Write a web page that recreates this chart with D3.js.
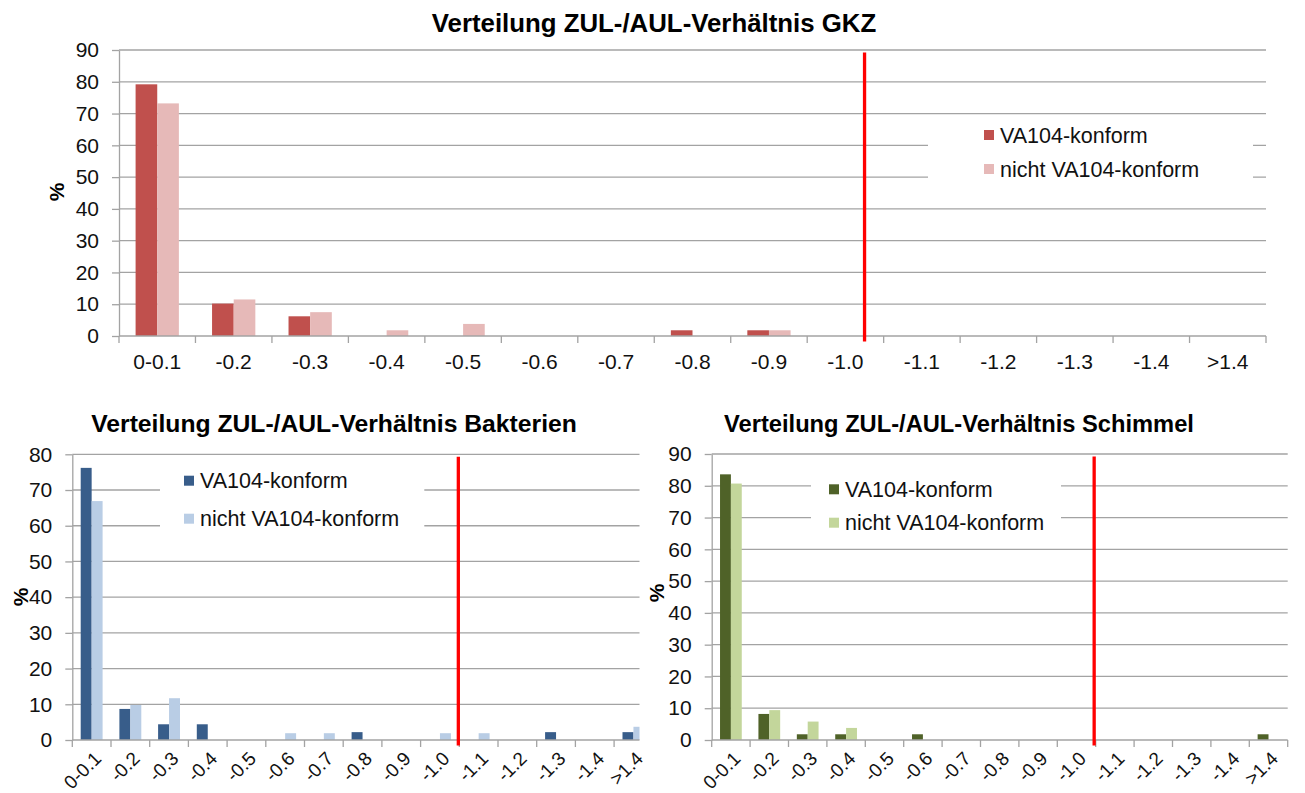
<!DOCTYPE html>
<html>
<head>
<meta charset="utf-8">
<script src="https://cdn.jsdelivr.net/npm/d3@7"></script>
<style>
  html, body { margin: 0; padding: 0; background: #fff; }
  svg { display: block; font-family: "Liberation Sans", Arial, sans-serif; }
</style>
</head>
<body>
<script>
// ZUL-/AUL ratio classes (shared by all three histograms)
const categories = ["0-0.1", "-0.2", "-0.3", "-0.4", "-0.5", "-0.6", "-0.7", "-0.8",
                    "-0.9", "-1.0", "-1.1", "-1.2", "-1.3", "-1.4", ">1.4"];
const seriesNames = ["VA104-konform", "nicht VA104-konform"];

// Share of rooms per class, in %
const gkzKonform      = [79.2, 10.2, 6.2, 0, 0, 0, 0, 1.8, 1.8, 0, 0, 0, 0, 0, 0];
const gkzNicht        = [73.2, 11.5, 7.5, 1.8, 3.8, 0, 0, 0, 1.8, 0, 0, 0, 0, 0, 0];
const bakterienKonform = [76.2, 8.7, 4.4, 4.4, 0, 0, 0, 2.2, 0, 0, 0, 0, 2.2, 0, 2.2];
const bakterienNicht   = [66.9, 9.8, 11.7, 0, 0, 1.9, 1.9, 0, 0, 1.9, 1.9, 0, 0, 0, 3.7];
const schimmelKonform  = [83.6, 8.2, 1.8, 1.8, 0, 1.8, 0, 0, 0, 0, 0, 0, 0, 0, 1.8];
const schimmelNicht    = [80.7, 9.4, 5.8, 3.8, 0, 0, 0, 0, 0, 0, 0, 0, 0, 0, 0];

const gridColor = "#a3a3a3";
const limitColor = "#ff0000";
const textColor = "#111";

const svg = d3.select("body").append("svg")
  .attr("width", 1305).attr("height", 793);

function drawChart(cfg) {
  const g = svg.append("g");
  const x = d3.scaleBand().domain(categories)
    .range([cfg.left, cfg.right]).paddingInner(0.434).paddingOuter(0.217);
  const xs = d3.scaleBand().domain([0, 1]).range([0, x.bandwidth()]);
  const y = d3.scaleLinear().domain([0, cfg.yMax]).range([cfg.bottom, cfg.top]);
  const step = x.step();
  const boundary = i => cfg.left + i * step;

  // clipping for the plot body
  const clipId = "clip-" + cfg.id;
  svg.append("clipPath").attr("id", clipId).append("rect")
    .attr("x", cfg.left - 10).attr("y", cfg.top - 10)
    .attr("width", cfg.clipRight - cfg.left + 10).attr("height", cfg.bottom - cfg.top + 30);
  const body = g.append("g").attr("clip-path", `url(#${clipId})`);

  // horizontal gridlines
  const yTicks = d3.range(0, cfg.yMax + 1, 10);
  body.selectAll("line.grid").data(yTicks.filter(v => v > 0)).join("line")
    .attr("class", "grid")
    .attr("x1", cfg.left).attr("x2", cfg.right)
    .attr("y1", d => y(d)).attr("y2", d => y(d))
    .attr("stroke", gridColor).attr("stroke-width", 1.3);

  // legend background interrupts the gridlines
  body.append("rect")
    .attr("x", cfg.legend.x0).attr("y", cfg.legend.y0)
    .attr("width", cfg.legend.x1 - cfg.legend.x0).attr("height", cfg.legend.y1 - cfg.legend.y0)
    .attr("fill", "#fff");

  // bars
  const rows = categories.map((c, i) => ({ c, v: [cfg.series[0][i], cfg.series[1][i]] }));
  body.selectAll("g.cat").data(rows).join("g")
    .attr("class", "cat")
    .attr("transform", d => `translate(${x(d.c)},0)`)
    .selectAll("rect").data(d => d.v.map((v, k) => ({ v, k }))).join("rect")
    .attr("x", d => xs(d.k)).attr("width", xs.bandwidth())
    .attr("y", d => y(d.v)).attr("height", d => y(0) - y(d.v))
    .attr("fill", d => cfg.colors[d.k]);

  // axis lines and tick marks
  body.append("line")
    .attr("x1", cfg.left).attr("x2", cfg.right)
    .attr("y1", y(0)).attr("y2", y(0))
    .attr("stroke", gridColor).attr("stroke-width", 1.3);
  body.selectAll("line.xtick").data(d3.range(categories.length + 1)).join("line")
    .attr("class", "xtick")
    .attr("x1", d => boundary(d)).attr("x2", d => boundary(d))
    .attr("y1", y(0)).attr("y2", y(0) + 7)
    .attr("stroke", gridColor).attr("stroke-width", 1.3);

  const yAxis = g.append("g")
    .attr("transform", `translate(${cfg.left},0)`)
    .call(d3.axisLeft(y).tickValues(yTicks).tickSize(7).tickSizeOuter(0).tickPadding(13));
  yAxis.select(".domain").attr("stroke", gridColor).attr("stroke-width", 1.3);
  yAxis.selectAll(".tick line").attr("stroke", gridColor).attr("stroke-width", 1.3);
  yAxis.selectAll("text").attr("font-size", 21).attr("fill", textColor)
    .attr("font-family", "Liberation Sans, Arial, sans-serif");

  // category labels
  const xAxis = g.append("g")
    .attr("transform", `translate(0,${y(0)})`)
    .call(d3.axisBottom(x).tickSize(0).tickPadding(0));
  xAxis.select(".domain").remove();
  const xt = xAxis.selectAll("text")
    .attr("font-size", cfg.xFont).attr("fill", textColor)
    .attr("font-family", "Liberation Sans, Arial, sans-serif");
  if (cfg.rotate) {
    xt.attr("text-anchor", "end").attr("dy", "0.35em")
      .attr("transform", "translate(6,15) rotate(-45)");
  } else {
    xt.attr("dy", 0).attr("y", 33);
  }

  // limit marker at ratio 1.0
  const lx = boundary(categories.indexOf(cfg.limit.cat)) + cfg.limit.frac * step;
  g.append("line")
    .attr("x1", lx).attr("x2", lx)
    .attr("y1", y(cfg.yMax) + 2.5).attr("y2", y(0) + 5.5)
    .attr("stroke", limitColor).attr("stroke-width", 3.3);

  // legend
  const lg = g.append("g");
  seriesNames.forEach((name, k) => {
    const cy = cfg.legend.rows[k];
    lg.append("rect").attr("x", cfg.legend.markerX).attr("y", cy - 5)
      .attr("width", 10).attr("height", 10).attr("fill", cfg.colors[k]);
    lg.append("text").attr("x", cfg.legend.markerX + 16).attr("y", cy)
      .attr("dy", "0.36em").attr("font-size", 21.5).attr("fill", textColor).text(name);
  });

  // title and y-axis caption
  g.append("text").attr("x", cfg.titleX).attr("y", cfg.titleY)
    .attr("text-anchor", "middle").attr("font-weight", "bold")
    .attr("font-size", cfg.titleSize).attr("fill", "#000").text(cfg.title);
  g.append("text")
    .attr("transform", `translate(${cfg.yLabel[0]},${cfg.yLabel[1]}) rotate(-90)`)
    .attr("text-anchor", "middle").attr("dy", "0.35em")
    .attr("font-weight", "bold").attr("font-size", 21).attr("fill", "#000").text("%");
}

drawChart({
  id: "gkz", title: "Verteilung ZUL-/AUL-Verhältnis GKZ",
  titleX: 654, titleY: 32, titleSize: 25.8,
  left: 119, right: 1266, clipRight: 1268, top: 50, bottom: 336, yMax: 90,
  series: [gkzKonform, gkzNicht], colors: ["#c0504d", "#e6b9b8"],
  xFont: 21, rotate: false,
  limit: { cat: "-1.0", frac: 0.75 },
  legend: { x0: 928, x1: 1253, y0: 120, y1: 195, markerX: 984, rows: [135, 169] },
  yLabel: [57, 192]
});

drawChart({
  id: "bak", title: "Verteilung ZUL-/AUL-Verhältnis Bakterien",
  titleX: 334, titleY: 432, titleSize: 24.7,
  left: 72.3, right: 652.8, clipRight: 639.5, top: 454.3, bottom: 740, yMax: 80,
  series: [bakterienKonform, bakterienNicht], colors: ["#385d8a", "#b9cde5"],
  xFont: 19, rotate: true,
  limit: { cat: "-1.0", frac: 0.975 },
  legend: { x0: 160, x1: 424.3, y0: 465, y1: 540, markerX: 184, rows: [480.7, 518.7] },
  yLabel: [21, 597]
});

drawChart({
  id: "sch", title: "Verteilung ZUL-/AUL-Verhältnis Schimmel",
  titleX: 959, titleY: 432, titleSize: 23.7,
  left: 711.7, right: 1287.7, clipRight: 1290, top: 454, bottom: 740, yMax: 90,
  series: [schimmelKonform, schimmelNicht], colors: ["#4f6228", "#c3d69b"],
  xFont: 19, rotate: true,
  limit: { cat: "-1.0", frac: 0.96 },
  legend: { x0: 811, x1: 1061, y0: 466, y1: 540, markerX: 829, rows: [489.3, 522.7] },
  yLabel: [657, 593]
});
</script>
</body>
</html>
